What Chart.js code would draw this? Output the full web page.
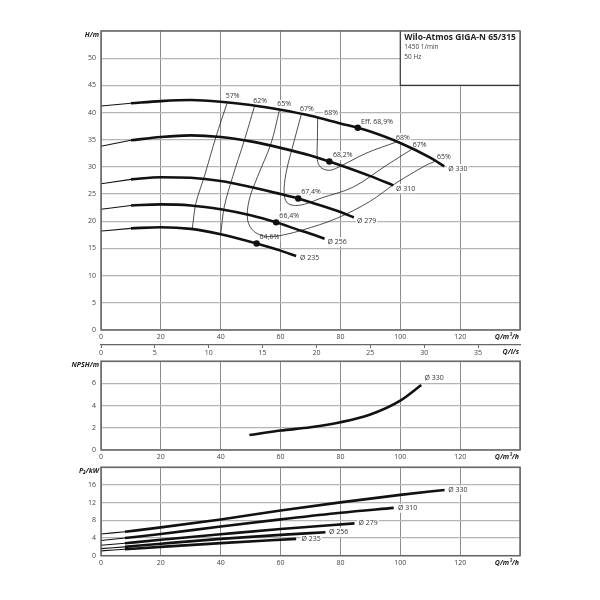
<!DOCTYPE html>
<html>
<head>
<meta charset="utf-8">
<script src="https://cdn.jsdelivr.net/npm/chart.js"></script>
<style>
  body { margin: 0; background: #fff; }
  #wrap { position: relative; width: 600px; height: 600px; }
  canvas { position: absolute; left: 0; }
</style>
</head>
<body>
<div id="wrap">
  <canvas id="head" width="600" height="360" style="top:0px"></canvas>
  <canvas id="npsh" width="600" height="110" style="top:352px"></canvas>
  <canvas id="power" width="600" height="112" style="top:458px"></canvas>
</div>
<script>
// impeller diameters
const diameters = ['Ø 330', 'Ø 310', 'Ø 279', 'Ø 256', 'Ø 235'];

// Q-H curves (Q in m³/h, H in m)
const headQ = [
  [0, 10, 20, 30, 40, 50, 60, 70, 80, 85.8, 90, 100, 110, 114.7],
  [0, 10, 20, 30, 40, 50, 60, 70, 76.3, 80, 90, 97.7],
  [0, 10, 20, 30, 40, 50, 60, 65.9, 70, 80, 84.5],
  [0, 10, 20, 30, 40, 50, 58.5, 65, 70, 74.7],
  [0, 10, 20, 30, 40, 52, 60, 65.2]
];
const headH = [
  [41.2, 41.7, 42.1, 42.3, 42.0, 41.4, 40.5, 39.4, 38.0, 37.2, 36.5, 34.4, 31.7, 30.1],
  [33.8, 34.9, 35.5, 35.8, 35.5, 34.7, 33.5, 32.1, 31.0, 30.3, 28.3, 26.6],
  [26.9, 27.7, 28.1, 28.0, 27.4, 26.3, 25.0, 24.2, 23.5, 21.7, 20.7],
  [22.2, 22.9, 23.1, 22.9, 22.2, 21.1, 19.8, 18.6, 17.7, 16.8],
  [18.2, 18.7, 18.9, 18.6, 17.6, 15.9, 14.6, 13.6]
];
const headLabelQ = [116, 98.6, 85.5, 75.7, 66.5];
const headLabelH = [29.7, 26.0, 20.1, 16.2, 13.3];

// best efficiency points
const bepQ = [85.8, 76.3, 65.9, 58.5, 52.0];
const bepH = [37.2, 31.0, 24.2, 19.8, 15.9];
const bepText = ['Eff. 68,9%', '68,2%', '67,4%', '66,4%', '64,6%'];
const bepLabelQ = [86.9, 77.5, 66.9, 59.6, 53.0];
const bepLabelH = [38.2, 32.1, 25.4, 21.0, 17.1];

// iso-efficiency lines
const effNames = ['57%', '62%', '65%', '67%', '68%'];
const effQ = [
  [42.1, 38.4, 34.5, 31.7, 30.5],
  [51.2, 47.9, 44.0, 41.2, 40.0],
  [59.6, 56.8, 52.3, 49.5, 49.0, 51.2, 55.6, 61.0, 67.4, 78.6, 89.7, 98.5, 108.6, 111.5],
  [67.0, 64.6, 61.8, 61.2, 62.2, 65.0, 69.0, 73.2, 84.3, 95.4, 104.0],
  [72.4, 72.3, 72.3, 73.3, 75.5, 78.0, 88.5, 98.8]
];
const effH = [
  [41.7, 35.5, 28.2, 23.3, 18.6],
  [41.0, 34.9, 28.2, 22.7, 17.6],
  [40.4, 34.3, 28.2, 23.9, 20.2, 18.1, 17.2, 17.5, 18.4, 20.5, 23.6, 27.0, 30.3, 31.0],
  [39.8, 34.9, 28.8, 25.1, 23.4, 22.9, 23.3, 24.2, 26.3, 30.3, 33.3],
  [38.9, 34.9, 31.3, 30.0, 29.4, 29.6, 32.5, 34.6]
];
const effTopQ = [44.0, 53.2, 61.2, 68.8, 76.9];
const effTopH = [43.0, 42.2, 41.5, 40.7, 40.0];
const effRightText = ['68%', '67%', '65%'];
const effRightQ = [100.9, 106.5, 114.6];
const effRightH = [35.4, 34.0, 31.8];

// NPSH curve (Ø 330)
const npshQ = [49.6, 60, 70, 80, 90, 100, 107];
const npshV = [1.35, 1.75, 2.05, 2.5, 3.2, 4.45, 5.85];

// P2 curves (kW)
const powerQ = [
  [0, 8, 20, 40, 60, 80, 100, 114.8],
  [0, 8, 20, 40, 60, 80, 97.8],
  [0, 8, 20, 40, 60, 84.7],
  [0, 8, 20, 40, 60, 75],
  [0, 8, 20, 40, 65.2]
];
const powerP = [
  [4.9, 5.4, 6.4, 8.2, 10.2, 12.05, 13.75, 14.85],
  [3.45, 4.0, 4.9, 6.6, 8.2, 9.7, 10.8],
  [2.35, 2.8, 3.6, 4.85, 6.05, 7.3],
  [1.6, 2.0, 2.7, 3.8, 4.7, 5.3],
  [1.1, 1.45, 2.0, 2.85, 3.8]
];
const powerLabelQ = [116, 99.2, 86, 76.2, 67];
const powerLabelP = [14.85, 10.7, 7.3, 5.3, 3.8];

Chart.defaults.font.family = "'Open Sans', sans-serif";
Chart.defaults.font.size = 7;
Chart.defaults.color = '#444';

const toPts = (qs, vs) => qs.map((q, i) => ({ x: q, y: vs[i] }));

function curveSets(qs, vs, thinUpTo) {
  const out = [];
  qs.forEach((q, i) => {
    const pts = toPts(q, vs[i]);
    out.push({ data: pts.filter(p => p.x <= thinUpTo), borderColor: '#111', borderWidth: 1.1, pointRadius: 0, cubicInterpolationMode: 'monotone' });
    out.push({ data: pts.filter(p => p.x >= thinUpTo), borderColor: '#111', borderWidth: 2.6, pointRadius: 0, cubicInterpolationMode: 'monotone' });
  });
  return out;
}

function drawLabel(ctx, text, px, py, align) {
  ctx.font = "7px 'Open Sans', sans-serif";
  const w = ctx.measureText(text).width;
  const left = align === 'center' ? px - w / 2 : px;
  ctx.fillStyle = '#fff';
  ctx.fillRect(left - 1, py - 4.5, w + 2, 9);
  ctx.fillStyle = '#333';
  ctx.textAlign = 'left';
  ctx.textBaseline = 'middle';
  ctx.fillText(text, left, py);
}

const decor = {
  id: 'decor',
  beforeDatasetsDraw(chart, args, o) {
    const { ctx, chartArea: a, scales } = chart;
    const sx = scales.x, sy = scales.y;
    ctx.save();
    if (o.box) {
      const bx = sx.getPixelForValue(o.box.q), by = sy.getPixelForValue(o.box.v);
      ctx.fillStyle = '#fff';
      ctx.fillRect(bx, a.top, a.right - bx, by - a.top);
      ctx.strokeStyle = '#333';
      ctx.lineWidth = 1.2;
      ctx.beginPath();
      ctx.moveTo(bx, a.top); ctx.lineTo(bx, by); ctx.lineTo(a.right, by);
      ctx.stroke();
      ctx.fillStyle = '#222';
      ctx.textAlign = 'left';
      ctx.textBaseline = 'middle';
      ctx.font = "bold 8.5px 'Open Sans', sans-serif";
      ctx.fillText(o.box.title, bx + 4, a.top + 7);
      ctx.font = "6.5px 'Open Sans', sans-serif";
      ctx.fillStyle = '#444';
      o.box.lines.forEach((t, i) => ctx.fillText(t, bx + 4, a.top + 16.5 + i * 9.5));
    }
    (o.labels || []).forEach(l => drawLabel(ctx, l.t, sx.getPixelForValue(l.q), sy.getPixelForValue(l.v), l.align));
    ctx.restore();
  },
  afterDraw(chart, args, o) {
    const { ctx, chartArea: a } = chart;
    ctx.save();
    ctx.strokeStyle = '#666';
    ctx.lineWidth = 1.5;
    ctx.strokeRect(a.left, a.top, a.right - a.left, a.bottom - a.top);
    ctx.fillStyle = '#222';
    ctx.font = "italic bold 7px 'Open Sans', sans-serif";
    ctx.textBaseline = 'middle';
    ctx.textAlign = 'right';
    ctx.fillText(o.yTitle, a.left - 2, a.top + 4);
    (o.xTitles || []).forEach(t => ctx.fillText(t.t, a.right - 1, a.bottom + t.dy));
    ctx.restore();
  }
};

function xScale(extra) {
  return Object.assign({
    type: 'linear', min: 0, max: 140, position: 'bottom', weight: 0,
    ticks: { stepSize: 20, autoSkip: false, maxRotation: 0, padding: 3, callback: v => v === 140 ? '' : v },
    grid: { color: '#8c8c8c', lineWidth: 1, drawTicks: false },
    border: { display: false },
    afterFit: s => { s.height = 14; }
  }, extra || {});
}
function yScale(max, step) {
  return {
    min: 0, max: max,
    ticks: { stepSize: step, padding: 5, callback: v => v === max ? '' : v },
    grid: { color: '#b4b4b4', lineWidth: 1.2, drawTicks: false },
    border: { display: false },
    afterFit: s => { s.width = 101; }
  };
}
const baseOpts = {
  responsive: false, animation: false, devicePixelRatio: 1,
  plugins: { legend: { display: false }, tooltip: { enabled: false } }
};

// --- Q-H chart
const headSets = curveSets(headQ, headH, 10);
effQ.forEach((q, i) => headSets.push({ data: toPts(q, effH[i]), borderColor: '#222', borderWidth: 0.8, pointRadius: 0, tension: 0.35 }));
headSets.push({ data: toPts(bepQ, bepH), showLine: false, pointRadius: 3.2, pointBackgroundColor: '#111', pointBorderWidth: 0 });

const headLabels = [];
diameters.forEach((d, i) => headLabels.push({ t: d, q: headLabelQ[i], v: headLabelH[i], align: 'left' }));
bepText.forEach((t, i) => headLabels.push({ t: t, q: bepLabelQ[i], v: bepLabelH[i], align: 'left' }));
effNames.forEach((t, i) => headLabels.push({ t: t, q: effTopQ[i], v: effTopH[i], align: 'center' }));
effRightText.forEach((t, i) => headLabels.push({ t: t, q: effRightQ[i], v: effRightH[i], align: 'center' }));

new Chart(document.getElementById('head'), {
  type: 'line',
  data: { datasets: headSets },
  options: Object.assign({}, baseOpts, {
    layout: { padding: { left: 0, right: 80, top: 31, bottom: 0 } },
    scales: {
      x: xScale({ afterFit: s => { s.height = 15; } }),
      x2: {
        type: 'linear', min: 0, max: 140 / 3.6, position: 'bottom', weight: 1,
        ticks: { stepSize: 5, includeBounds: false, autoSkip: false, maxRotation: 0, padding: 1 },
        grid: { drawOnChartArea: false, drawTicks: true, tickLength: 3, color: '#666' },
        border: { display: true, color: '#666', width: 1.2 },
        afterFit: s => { s.height = 15; }
      },
      y: yScale(55, 5)
    },
    plugins: Object.assign({}, baseOpts.plugins, {
      decor: {
        yTitle: 'H/m',
        xTitles: [{ t: 'Q/m³/h', dy: 7 }, { t: 'Q/l/s', dy: 22 }],
        box: { q: 100, v: 45, title: 'Wilo-Atmos GIGA-N 65/315', lines: ['1450 1/min', '50 Hz'] },
        labels: headLabels
      }
    })
  }),
  plugins: [decor]
});

// --- NPSH chart
new Chart(document.getElementById('npsh'), {
  type: 'line',
  data: { datasets: [{ data: toPts(npshQ, npshV), borderColor: '#111', borderWidth: 2.6, pointRadius: 0, cubicInterpolationMode: 'monotone' }] },
  options: Object.assign({}, baseOpts, {
    layout: { padding: { left: 0, right: 80, top: 6, bottom: 0 } },
    scales: { x: xScale({ afterFit: s => { s.height = 12; } }), y: yScale(8, 2) },
    plugins: Object.assign({}, baseOpts.plugins, {
      decor: {
        yTitle: 'NPSH/m',
        xTitles: [{ t: 'Q/m³/h', dy: 7 }],
        labels: [{ t: 'Ø 330', q: 108.1, v: 6.5, align: 'left' }]
      }
    })
  }),
  plugins: [decor]
});

// --- P2 chart
const powerLabels = diameters.map((d, i) => ({ t: d, q: powerLabelQ[i], v: powerLabelP[i], align: 'left' }));
new Chart(document.getElementById('power'), {
  type: 'line',
  data: { datasets: curveSets(powerQ, powerP, 8) },
  options: Object.assign({}, baseOpts, {
    layout: { padding: { left: 0, right: 80, top: 6, bottom: 0 } },
    scales: { x: xScale({ afterFit: s => { s.height = 14.3; } }), y: yScale(20, 4) },
    plugins: Object.assign({}, baseOpts.plugins, {
      decor: {
        yTitle: 'P₂/kW',
        xTitles: [{ t: 'Q/m³/h', dy: 7 }],
        labels: powerLabels
      }
    })
  }),
  plugins: [decor]
});
</script>
</body>
</html>
